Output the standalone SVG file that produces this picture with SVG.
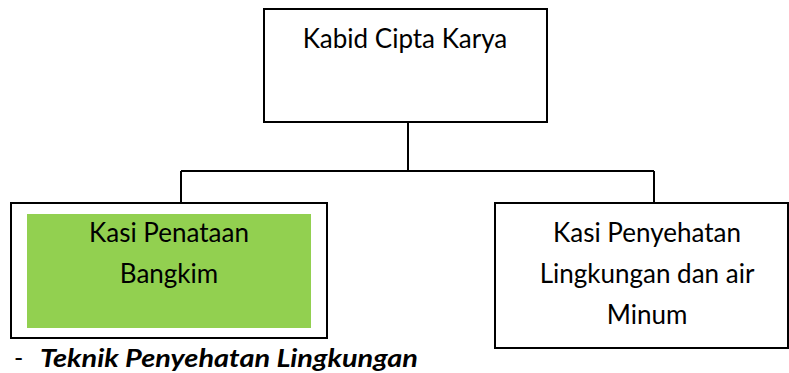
<svg xmlns="http://www.w3.org/2000/svg" width="789" height="373" viewBox="0 0 789 373">
<style>
.box{fill:#fff;stroke:#000;stroke-width:2}
.t{font-family:Lato,"Open Sans","Liberation Sans",sans-serif;font-size:26px;fill:#000;text-anchor:middle}
.n{font-family:Lato,"Open Sans","Liberation Sans",sans-serif;font-size:25px;fill:#000}
.c{fill:none;stroke:#000;stroke-width:2}
</style>
<rect width="789" height="373" fill="#fff"/>
<g id="connectors">
<path class="c" d="M408,122 V171 M181,171 H654 M181,171 V203 M654,171 V203"/>
</g>
<g id="kabid">
<rect class="box" x="264" y="9" width="283" height="113"/>
<text class="t" x="405" y="48">Kabid Cipta Karya</text>
</g>
<g id="kasi-penataan">
<rect class="box" x="11" y="203" width="316" height="135"/>
<rect x="27" y="214" width="284" height="114" fill="#92D050"/>
<text class="t" x="169" y="242">Kasi Penataan</text>
<text class="t" x="169" y="283">Bangkim</text>
</g>
<g id="kasi-penyehatan">
<rect class="box" x="495" y="203" width="293" height="145"/>
<text class="t" x="647" y="242">Kasi Penyehatan</text>
<text class="t" x="647" y="283">Lingkungan dan air</text>
<text class="t" x="647" y="324">Minum</text>
</g>
<g id="note">
<text class="n" x="14" y="367">-</text>
<text class="n" x="40" y="367" font-weight="bold" font-style="italic" textLength="378" lengthAdjust="spacingAndGlyphs">Teknik Penyehatan Lingkungan</text>
</g>
</svg>
